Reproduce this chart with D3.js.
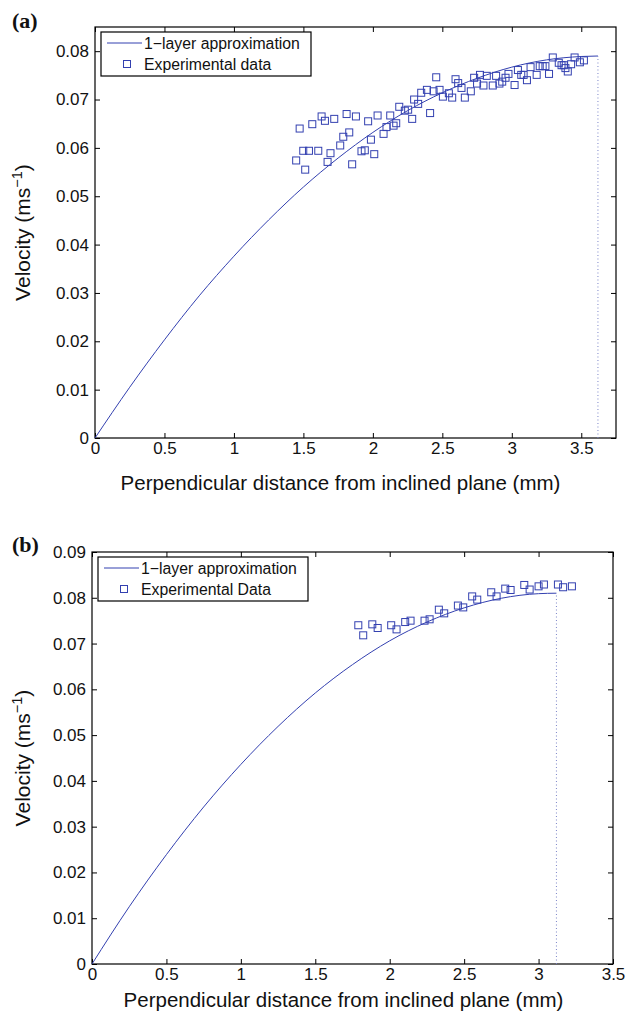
<!DOCTYPE html>
<html>
<head>
<meta charset="utf-8">
<script src="https://cdn.jsdelivr.net/npm/d3@7"></script>
<style>
  body { margin: 0; background: #fff; }
</style>
</head>
<body>
<div id="chart"></div>
<script>
// panel (a) - model curve
var aCurveX = [0, 0.25, 0.5, 0.75, 1, 1.25, 1.5, 1.75, 2, 2.25, 2.5, 2.75, 3, 3.25, 3.5, 3.62];
var aCurveY = [0, 0.0105, 0.0203, 0.0294, 0.0376, 0.0451, 0.0519, 0.0579, 0.0632, 0.0677, 0.0714, 0.0744, 0.0767, 0.0782, 0.0789, 0.079];
// panel (a) - experimental points
var aDataX = [1.473, 1.564, 1.631, 1.655, 1.722, 1.811, 1.878, 1.966, 2.034, 2.125, 2.19, 2.23, 2.254, 2.297, 2.326, 2.348,
  2.389, 2.437, 2.456, 2.48, 2.504, 2.547, 2.571, 2.595, 2.614, 2.638, 2.662, 2.705, 2.729, 2.75, 2.412, 2.283, 2.168,
  2.149, 2.098, 2.077, 1.986, 1.83, 1.787, 1.765, 1.942, 1.918, 2.01, 1.851, 1.695, 1.674, 1.607, 1.54, 1.499, 1.448,
  1.513, 2.771, 2.796, 2.82, 2.863, 2.887, 2.911, 2.931, 2.955, 2.976, 3.02, 3.044, 3.068, 3.085, 3.109, 3.135, 3.179,
  3.201, 3.222, 3.242, 3.268, 3.295, 3.338, 3.358, 3.374, 3.386, 3.403, 3.427, 3.452, 3.49, 3.519];
var aDataY = [0.064, 0.0649, 0.0665, 0.0656, 0.066, 0.067, 0.0665, 0.0655, 0.0667, 0.0667, 0.0685, 0.0677, 0.0679, 0.07,
  0.0691, 0.0714, 0.072, 0.0717, 0.0746, 0.072, 0.0706, 0.0713, 0.0704, 0.0742, 0.0734, 0.0724, 0.0704, 0.0717, 0.0745,
  0.0733, 0.0672, 0.066, 0.0651, 0.0646, 0.0643, 0.0629, 0.0617, 0.0632, 0.0623, 0.0605, 0.0595, 0.0593, 0.0587, 0.0566,
  0.0589, 0.0571, 0.0594, 0.0594, 0.0594, 0.0574, 0.0555, 0.0751, 0.0729, 0.0749, 0.0729, 0.0749, 0.0733, 0.0737, 0.0745,
  0.0753, 0.073, 0.0761, 0.0751, 0.0751, 0.074, 0.0767, 0.0751, 0.0769, 0.0769, 0.0769, 0.0753, 0.0787, 0.0776, 0.0771,
  0.0771, 0.0765, 0.0758, 0.0773, 0.0787, 0.0777, 0.0781];
var aXTicks = [0, 0.5, 1, 1.5, 2, 2.5, 3, 3.5];
var aXTickLabels = ["0", "0.5", "1", "1.5", "2", "2.5", "3", "3.5"];
var aYTicks = [0, 0.01, 0.02, 0.03, 0.04, 0.05, 0.06, 0.07, 0.08];
var aYTickLabels = ["0", "0.01", "0.02", "0.03", "0.04", "0.05", "0.06", "0.07", "0.08"];

// panel (b)
var bCurveX = [0, 0.25, 0.5, 0.75, 1, 1.25, 1.5, 1.75, 2, 2.25, 2.5, 2.75, 3, 3.12];
var bCurveY = [0, 0.0125, 0.0239, 0.0343, 0.0436, 0.0519, 0.0592, 0.0654, 0.0706, 0.0747, 0.0778, 0.0799, 0.0809, 0.081];
var bDataX = [1.789, 1.822, 1.883, 1.919, 2.01, 2.046, 2.104, 2.14, 2.234, 2.268, 2.33, 2.366, 2.458, 2.494, 2.554, 2.588,
  2.682, 2.718, 2.776, 2.812, 2.904, 2.94, 3.0, 3.036, 3.13, 3.165, 3.224];
var bDataY = [0.074, 0.0718, 0.0742, 0.0734, 0.074, 0.0731, 0.0747, 0.075, 0.075, 0.0753, 0.0774, 0.0766, 0.0783, 0.0779,
  0.0803, 0.0796, 0.0812, 0.0803, 0.082, 0.0817, 0.0828, 0.0818, 0.0825, 0.0829, 0.0829, 0.0823, 0.0825];
var bXTicks = [0, 0.5, 1, 1.5, 2, 2.5, 3, 3.5];
var bXTickLabels = ["0", "0.5", "1", "1.5", "2", "2.5", "3", "3.5"];
var bYTicks = [0, 0.01, 0.02, 0.03, 0.04, 0.05, 0.06, 0.07, 0.08, 0.09];
var bYTickLabels = ["0", "0.01", "0.02", "0.03", "0.04", "0.05", "0.06", "0.07", "0.08", "0.09"];

var blue = "#3340b0";
var sans = "Liberation Sans, Arial, sans-serif";

var svg = d3.select("#chart").append("svg")
  .attr("width", 629)
  .attr("height", 1020);

function drawPanel(p) {
  var w = p.right - p.left, h = p.bottom - p.top;
  var g = svg.append("g").attr("transform", "translate(" + p.left + "," + p.top + ")");
  var x = d3.scaleLinear().domain(p.xDomain).range([0, w]);
  var y = d3.scaleLinear().domain(p.yDomain).range([h, 0]);

  // axes, ticks pointing inwards on all four sides
  var xb = g.append("g").attr("transform", "translate(0," + h + ")")
    .call(d3.axisBottom(x).tickValues(p.xTicks).tickFormat(function (d, i) { return p.xLabels[i]; })
      .tickSizeInner(-5).tickSizeOuter(0).tickPadding(4));
  var xt = g.append("g")
    .call(d3.axisTop(x).tickValues(p.xTicks).tickFormat("").tickSizeInner(-5).tickSizeOuter(0));
  var yl = g.append("g")
    .call(d3.axisLeft(y).tickValues(p.yTicks).tickFormat(function (d, i) { return p.yLabels[i]; })
      .tickSizeInner(-5).tickSizeOuter(0).tickPadding(6));
  var yr = g.append("g").attr("transform", "translate(" + w + ",0)")
    .call(d3.axisRight(y).tickValues(p.yTicks).tickFormat("").tickSizeInner(-5).tickSizeOuter(0));
  [xb, xt, yl, yr].forEach(function (a) {
    a.select(".domain").remove();
    a.selectAll("line").attr("stroke", "#000");
    a.selectAll("text").attr("font-size", "17px").attr("fill", "#111").attr("font-family", sans);
  });
  g.append("rect").attr("width", w).attr("height", h)
    .attr("fill", "none").attr("stroke", "#000").attr("stroke-width", 1.2);

  // dotted line at the free surface
  var n = p.curveX.length - 1;
  g.append("line")
    .attr("x1", x(p.curveX[n])).attr("x2", x(p.curveX[n]))
    .attr("y1", y(0)).attr("y2", y(p.curveY[n]))
    .attr("stroke", "#7c84c8").attr("stroke-width", 1).attr("stroke-dasharray", "1,2.5");

  var line = d3.line().curve(d3.curveMonotoneX)
    .x(function (d, i) { return x(p.curveX[i]); })
    .y(function (d, i) { return y(p.curveY[i]); });
  g.append("path").datum(p.curveX).attr("d", line)
    .attr("fill", "none").attr("stroke", blue).attr("stroke-width", 1);

  g.selectAll("rect.pt").data(p.dataX).enter().append("rect")
    .attr("class", "pt")
    .attr("x", function (d) { return x(d) - 3.5; })
    .attr("y", function (d, i) { return y(p.dataY[i]) - 3.5; })
    .attr("width", 7).attr("height", 7)
    .attr("fill", "none").attr("stroke", blue).attr("stroke-width", 1);

  // legend
  var lg = g.append("g").attr("transform", "translate(" + p.legend[0] + "," + p.legend[1] + ")");
  lg.append("rect").attr("width", 210).attr("height", 44)
    .attr("fill", "#fff").attr("stroke", "#000").attr("stroke-width", 1.2);
  lg.append("line").attr("x1", 6).attr("x2", 41).attr("y1", 11).attr("y2", 11)
    .attr("stroke", blue).attr("stroke-width", 1);
  lg.append("text").attr("x", 43).attr("y", 17).attr("font-size", "15.8px").attr("fill", "#111")
    .attr("font-family", sans).text("1\u2212layer approximation");
  lg.append("rect").attr("x", 22.5).attr("y", 28.5).attr("width", 7).attr("height", 7)
    .attr("fill", "none").attr("stroke", blue).attr("stroke-width", 1);
  lg.append("text").attr("x", 43).attr("y", 38).attr("font-size", "15.8px").attr("fill", "#111")
    .attr("font-family", sans).text(p.dataName);

  // axis titles
  g.append("text").attr("x", w / 2 + p.titleShift).attr("y", h + p.titleGap).attr("text-anchor", "middle")
    .attr("font-size", "20.5px").attr("fill", "#111").attr("font-family", sans)
    .text("Perpendicular distance from inclined plane (mm)");
  var yt = g.append("text")
    .attr("transform", "translate(" + p.yTitleX + "," + (h / 2) + ") rotate(-90)")
    .attr("text-anchor", "middle").attr("font-size", "21px").attr("fill", "#111").attr("font-family", sans);
  yt.append("tspan").text("Velocity (ms");
  yt.append("tspan").attr("dy", "-8").attr("font-size", "14.5px").text("\u22121");
  yt.append("tspan").attr("dy", "8").text(")");

  svg.append("text").attr("x", p.tag[0]).attr("y", p.tag[1])
    .attr("font-family", "Liberation Serif, Times New Roman, serif").attr("font-weight", "bold")
    .attr("font-size", "22px").attr("fill", "#111").text(p.tagText);
}

drawPanel({
  left: 95, right: 616, top: 27, bottom: 438,
  xDomain: [0, 3.75], yDomain: [0, 0.085],
  xTicks: aXTicks, xLabels: aXTickLabels, yTicks: aYTicks, yLabels: aYTickLabels,
  curveX: aCurveX, curveY: aCurveY, dataX: aDataX, dataY: aDataY,
  dataName: "Experimental data", legend: [6, 5], tag: [12, 28], tagText: "(a)",
  titleGap: 52, titleShift: -15, yTitleX: -65
});

drawPanel({
  left: 92, right: 613, top: 552, bottom: 964,
  xDomain: [0, 3.5], yDomain: [0, 0.09],
  xTicks: bXTicks, xLabels: bXTickLabels, yTicks: bYTicks, yLabels: bYTickLabels,
  curveX: bCurveX, curveY: bCurveY, dataX: bDataX, dataY: bDataY,
  dataName: "Experimental Data", legend: [6, 5], tag: [12, 552], tagText: "(b)",
  titleGap: 43, titleShift: -9, yTitleX: -62
});
</script>
</body>
</html>
